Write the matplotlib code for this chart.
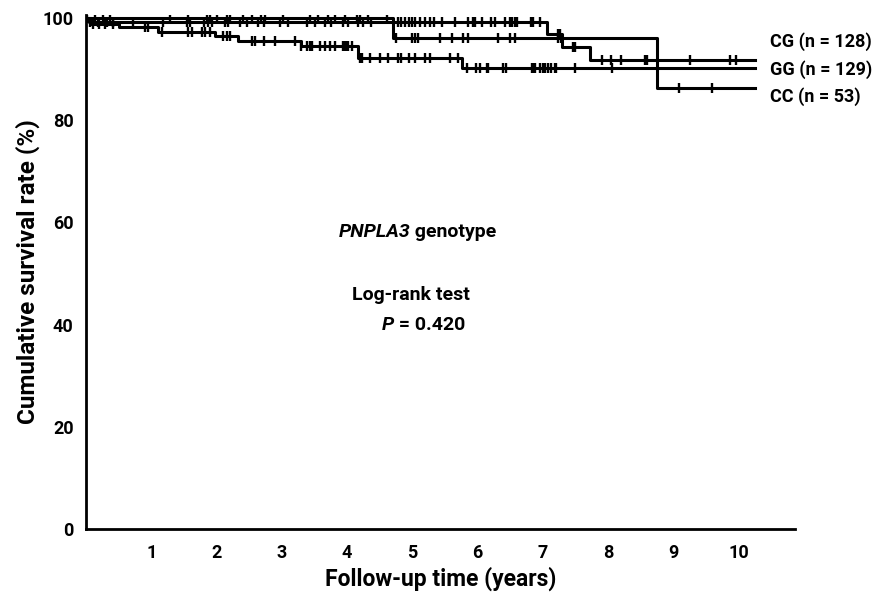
import numpy as np
import matplotlib.pyplot as plt

# --------------------------------------------------
# Data
# --------------------------------------------------
end_time = 10.25

# survival steps (time, percent)
cg_times = [0, 0.05, 7.06, 7.29, 7.72, end_time]
cg_surv = [100, 99.2, 96.9, 94.3, 91.7, 91.7]

gg_times = [0, 0.08, 0.5, 1.1, 1.98, 2.33, 3.3, 4.17, 5.76, end_time]
gg_surv = [100, 98.9, 98.2, 97.3, 96.5, 95.5, 94.6, 92.2, 90.3, 90.3]

cc_times = [0, 4.70, 8.74, end_time]
cc_surv = [100, 96.1, 86.3, 86.3]

# censored observations (years)
cg_censor = [0.06, 0.18, 0.32, 0.41, 0.72, 1.18, 1.55, 1.59, 1.81, 1.87, 1.93,
             2.13, 2.18, 2.36, 2.46, 2.64, 2.72, 2.97, 3.09, 3.38, 3.51, 3.66,
             3.76, 3.94, 4.02, 4.17, 4.25, 4.37, 4.78, 4.83, 4.89, 4.94, 4.99,
             5.04, 5.11, 5.19, 5.27, 5.33, 5.45, 5.65, 5.85, 5.93, 5.96, 6.07,
             6.21, 6.26, 6.42, 6.49, 6.53, 6.57, 6.60, 6.81, 6.85, 6.95, 7.23,
             7.26, 7.46, 7.49, 7.90, 8.04, 8.19, 8.56, 8.60, 9.25, 9.86, 9.96]
gg_censor = [0.1, 0.2, 0.29, 0.41, 0.9, 0.95, 1.16, 1.56, 1.62, 1.77, 1.82, 1.9,
             2.10, 2.16, 2.21, 2.54, 2.59, 2.72, 2.9, 3.2, 3.30, 3.38, 3.43,
             3.46, 3.58, 3.66, 3.74, 3.81, 3.94, 3.97, 3.99, 4.02, 4.07, 4.20,
             4.22, 4.35, 4.50, 4.63, 4.78, 4.83, 4.94, 5.04, 5.19, 5.27, 5.57,
             5.70, 5.83, 5.98, 6.03, 6.14, 6.16, 6.39, 6.44, 6.83, 6.85, 6.88,
             6.95, 7.00, 7.03, 7.08, 7.13, 7.18, 7.20, 7.49, 8.06]
cc_censor = [0.02, 0.14, 0.26, 0.37, 1.29, 1.56, 1.85, 1.90, 2.00, 2.16, 2.21,
             2.41, 2.54, 2.68, 2.74, 3.02, 3.43, 3.56, 3.71, 3.81, 3.97, 4.15,
             4.20, 4.32, 4.61, 4.75, 4.99, 5.04, 5.08, 5.42, 5.60, 5.78, 5.85,
             6.31, 6.49, 6.57, 7.23, 7.28, 9.08, 9.59]

labels = ["CG (n = 128)", "GG (n = 129)", "CC (n = 53)"]
label_y = [95.3, 90.0, 84.6]

# --------------------------------------------------
# Plot
# --------------------------------------------------
plt.rcParams['font.family'] = ['Roboto', 'DejaVu Sans']
plt.rcParams['font.weight'] = 'bold'

fig = plt.figure(figsize=(8.75, 5.92), dpi=100)
ax = fig.add_axes([86 / 875, 1 - 529 / 592, (795 - 86) / 875, (529 - 15) / 592])


def surv_at(times, surv, t):
    idx = np.searchsorted(times, t, side="right") - 1
    return np.array(surv)[idx]


for times, surv, cens in [(cg_times, cg_surv, cg_censor),
                          (gg_times, gg_surv, gg_censor),
                          (cc_times, cc_surv, cc_censor)]:
    ax.step(times, surv, where="post", color="black", linewidth=2.2)
    ax.plot(cens, surv_at(times, surv, cens), linestyle="none",
            marker="|", markersize=7, markeredgewidth=1.7, color="black")

for lab, yv in zip(labels, label_y):
    ax.text(10.47, yv, lab, fontsize=13, fontweight="bold",
            va="center", ha="left", clip_on=False)

# annotation in the middle of the plot
ax.text(4.97, 58.1, "PNPLA3", fontsize=14, fontweight="bold", style="italic",
        ha="right", va="center")
ax.text(4.97, 58.1, " genotype", fontsize=14, fontweight="bold",
        ha="left", va="center")
ax.text(4.97, 45.8, "Log-rank test", fontsize=14, fontweight="bold",
        ha="center", va="center")
ax.text(4.72, 39.9, "P", fontsize=14, fontweight="bold", style="italic",
        ha="right", va="center")
ax.text(4.72, 39.9, " = 0.420", fontsize=14, fontweight="bold",
        ha="left", va="center")

ax.set_xlim(0, 10.86)
ax.set_ylim(0, 100.6)
ax.set_xticks(range(1, 11))
ax.set_yticks(range(0, 101, 20))
ax.tick_params(length=0, labelsize=13)
ax.tick_params(axis="x", pad=11)
ax.tick_params(axis="y", pad=9)

for side in ["top", "right"]:
    ax.spines[side].set_visible(False)
for side in ["left", "bottom"]:
    ax.spines[side].set_linewidth(2)

ax.set_xlabel("Follow-up time (years)", fontsize=16.5, fontweight="bold", labelpad=3)
ax.set_ylabel("Cumulative survival rate (%)", fontsize=17.5, fontweight="bold",
              labelpad=2)

fig.savefig("out.png", dpi=100)
